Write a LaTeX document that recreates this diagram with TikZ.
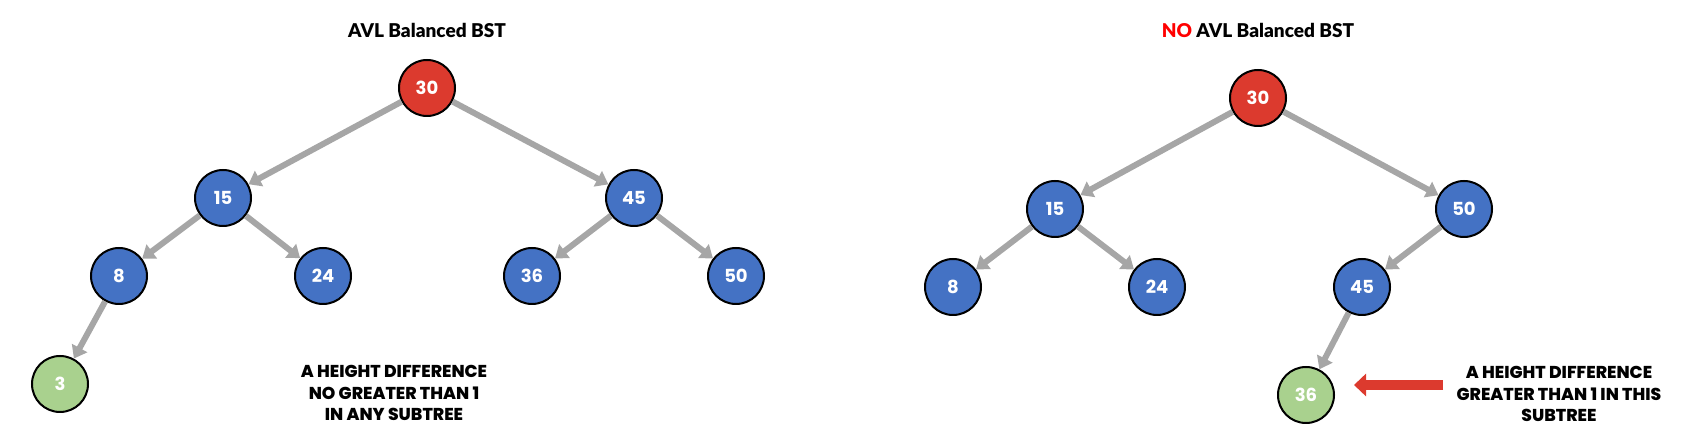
\documentclass[tikz,border=0pt]{standalone}
\usepackage{fontspec}
\setmainfont{Poppins}
\newfontfamily\titlefont{Lato}[BoldFont=* Black]
\newfontfamily\notefont{Poppins}[BoldFont=* ExtraBold]
\usetikzlibrary{arrows.meta}
\definecolor{rootred}{HTML}{DC3A2E}
\definecolor{nodeblue}{HTML}{4472C4}
\definecolor{leafgreen}{HTML}{A9D18E}
\definecolor{edgegray}{HTML}{A6A6A6}
\definecolor{nored}{HTML}{FF0000}
\tikzset{
  tnode/.style={circle, draw=black, line width=1pt, minimum size=28pt, inner sep=0pt,
    text=white, font=\fontsize{9}{10}\selectfont\bfseries},
  rootn/.style={tnode, fill=rootred},
  bluen/.style={tnode, fill=nodeblue},
  greenn/.style={tnode, fill=leafgreen},
  edge/.style={draw=edgegray, line width=3pt, -{Triangle[length=6pt,width=8.5pt]}, shorten >=0pt},
  title/.style={font=\titlefont\fontsize{9.5}{11}\selectfont\bfseries},
  note/.style={align=center, font=\notefont\fontsize{8.6}{10.8}\selectfont\bfseries}
}
\begin{document}
\begin{tikzpicture}[x=0.5pt,y=-0.5pt]
\useasboundingbox (0,0) rectangle (1688,442);
% Left tree
\node[title] (t1) at (427,30) {AVL Balanced BST};
\node[rootn] (a30) at (427,88) {30};
\node[bluen] (a15) at (223,198) {15};
\node[bluen] (a45) at (634,198) {45};
\node[bluen] (a8) at (119,276) {8};
\node[bluen] (a24) at (323,276) {24};
\node[bluen] (a36) at (532,276) {36};
\node[bluen] (a50) at (736,276) {50};
\node[greenn] (a3) at (60,384) {3};
\draw[edge] (a30) -- (a15);
\draw[edge] (a30) -- (a45);
\draw[edge] (a15) -- (a8);
\draw[edge] (a15) -- (a24);
\draw[edge] (a45) -- (a36);
\draw[edge] (a45) -- (a50);
\draw[edge] (a8) -- (a3);
\node[note] (n1) at (394,393) {A HEIGHT DIFFERENCE\\NO GREATER THAN 1\\IN ANY SUBTREE};
% Right tree
\node[title] (t2) at (1258,30) {\textcolor{nored}{NO} AVL Balanced BST};
\node[rootn] (b30) at (1258,98) {30};
\node[bluen] (b15) at (1055,209) {15};
\node[bluen] (b50) at (1464,209) {50};
\node[bluen] (b8) at (953,287) {8};
\node[bluen] (b24) at (1157,287) {24};
\node[bluen] (b45) at (1362,287) {45};
\node[greenn] (b36) at (1306,395) {36};
\draw[edge] (b30) -- (b15);
\draw[edge] (b30) -- (b50);
\draw[edge] (b15) -- (b8);
\draw[edge] (b15) -- (b24);
\draw[edge] (b50) -- (b45);
\draw[edge] (b45) -- (b36);
\node[note] (n2) at (1559,394) {A HEIGHT DIFFERENCE\\GREATER THAN 1 IN THIS\\SUBTREE};
\coordinate (arrtail) at (1443,385);
\coordinate (arrtip) at (1354,385);
\draw[draw=rootred, line width=5pt, -{Triangle[length=6pt,width=11pt]}] (arrtail) -- (arrtip);
\end{tikzpicture}
\end{document}
